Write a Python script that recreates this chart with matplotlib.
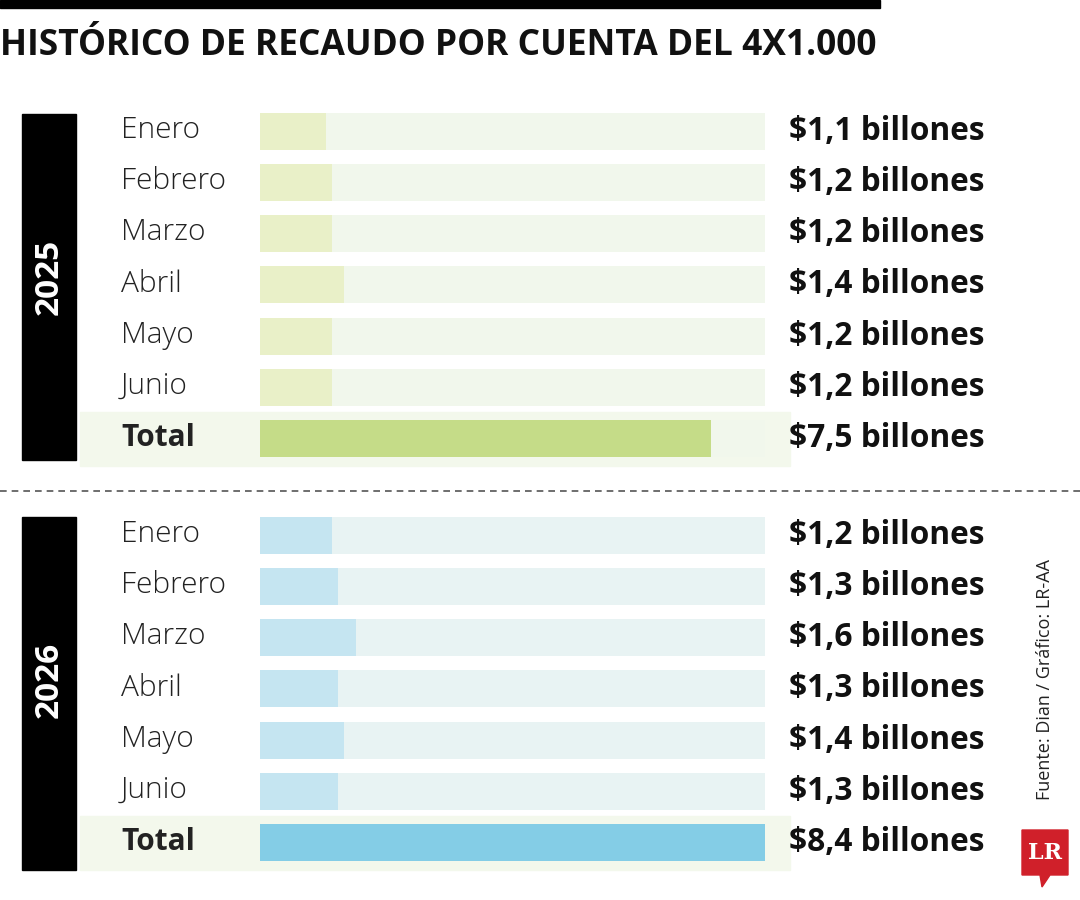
import matplotlib
matplotlib.use("Agg")
import matplotlib.pyplot as plt
from matplotlib.patches import Rectangle, Polygon

months = ["Enero", "Febrero", "Marzo", "Abril", "Mayo", "Junio"]
vals_2025 = [1.1, 1.2, 1.2, 1.4, 1.2, 1.2]
total_2025 = 7.5
vals_2026 = [1.2, 1.3, 1.6, 1.3, 1.4, 1.3]
total_2026 = 8.4
years = ["2025", "2026"]

plt.rcParams['font.family'] = ['Open Sans', 'DejaVu Sans']
fig = plt.figure(figsize=(10.8, 9), dpi=100)
ax = fig.add_axes([0, 0, 1, 1])
ax.set_xlim(0, 1080); ax.set_ylim(900, 0); ax.axis('off')

X0, W = 260, 505
scale = W / 8.4

ax.add_patch(Rectangle((0, 0), 880, 8, color='black'))
ax.text(0, 46, "HISTÓRICO DE RECAUDO POR CUENTA DEL 4X1.000", fontsize=25.5,
        fontweight='bold', va='center', ha='left', color='#111')
ax.plot([0, 1080], [491, 491], ls=(0, (4, 3)), color='#555', lw=1.2)

def fmt(v):
    return "$" + f"{v:.1f}".replace(".", ",") + " billones"

groups = [
    (vals_2025, total_2025, 131, '#f1f7ec', '#e9f0c8', '#c5dc88', '#f3f8ec', 114, 460),
    (vals_2026, total_2026, 535, '#e8f3f3', '#c5e5f1', '#84cde6', '#f3f8ec', 517, 870),
]
for gi, (vals, tot, y0, bg, bc, tc, band, yb0, yb1) in enumerate(groups):
    ys = [y0 + i * 51.3 for i in range(7)]
    ax.add_patch(Rectangle((80, ys[6] - 27), 710, 54, color=band, zorder=0))
    ax.barh(ys, [W] * 7, left=X0, height=37, color=bg, zorder=1)
    ax.barh(ys[:6], [v * scale for v in vals], left=X0, height=37, color=bc, zorder=2)
    ax.barh([ys[6]], [tot * scale], left=X0, height=37, color=tc, zorder=2)
    for i, m in enumerate(months + ["Total"]):
        ax.text(121, ys[i] - 1, m, fontsize=21.5,
                fontweight='light' if i < 6 else 'bold', va='center', ha='left', color='#222')
    for i, v in enumerate(vals + [tot]):
        ax.text(789, ys[i], fmt(v), fontsize=22.8, fontweight='bold', va='center', ha='left', color='#111')
    ax.add_patch(Rectangle((22, yb0), 54, yb1 - yb0, color='black'))
    ax.text(49, yb0 + 163, years[gi], rotation=90, color='white', fontsize=24,
            fontweight='bold', va='center', ha='center')

ax.text(1045, 680, "Fuente: Dian / Gráfico: LR-AA", rotation=90, fontsize=13,
        va='center', ha='center', color='#222')
ax.add_patch(Polygon([(1022, 830), (1068, 830), (1068, 875), (1050, 875), (1042, 887), (1040, 875), (1022, 875)],
                     color='#d0202a'))
ax.text(1045, 853, "LR", color='white', fontsize=16, fontweight='bold', family='DejaVu Serif',
        ha='center', va='center')

fig.savefig("out.png", dpi=100, facecolor='white')
